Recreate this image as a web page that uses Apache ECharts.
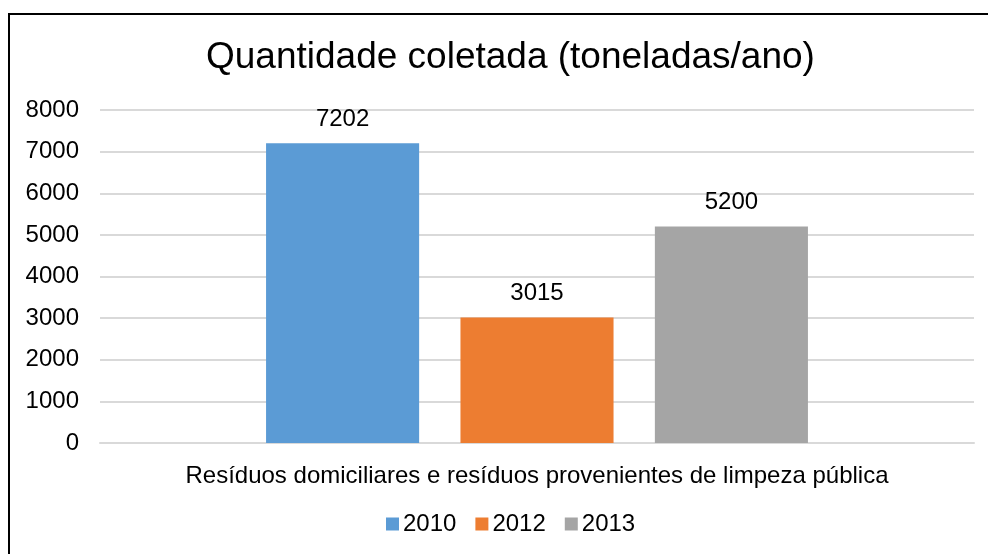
<!DOCTYPE html>
<html>
<head>
<meta charset="utf-8">
<script src="https://cdn.jsdelivr.net/npm/echarts@6/dist/echarts.min.js"></script>
<style>
	html, body { margin: 0; padding: 0; background: #fff; }
	#frame { position: absolute; left: 8px; top: 13px; width: 990px; height: 560px; border-top: 2px solid #000; border-left: 2px solid #000; }
	#chart { position: absolute; left: 0; top: 0; width: 988px; height: 554px; }
</style>
</head>
<body>
<div id="frame"></div>
<div id="chart"></div>
<script>
var categories = ['Resíduos domiciliares e resíduos provenientes de limpeza pública'];
var seriesNames = ['2010', '2012', '2013'];
var values2010 = [7202];
var values2012 = [3015];
var values2013 = [5200];

var chart = echarts.init(document.getElementById('chart'));
var font = '"Liberation Sans", Arial, sans-serif';
var barLabel = {
	show : true,
	position : 'top',
	distance : 12,
	color : '#000',
	fontSize : 24,
	fontFamily : font
};
var option = {
	animation : false,
	color : [ '#5b9bd5', '#ed7d31', '#a5a5a5' ],
	title : {
		text : 'Quantidade coletada (toneladas/ano)',
		left : 201,
		top : 34,
		textStyle : {
			color : '#000',
			fontSize : 37,
			fontWeight : 'normal',
			fontFamily : font
		}
	},
	legend : {
		data : seriesNames,
		bottom : 13,
		left : 381,
		itemWidth : 13,
		itemHeight : 13,
		itemGap : 19,
		icon : 'rect',
		textStyle : {
			color : '#000',
			fontSize : 24,
			fontFamily : font,
			padding : [0, 0, 0, -1]
		}
	},
	grid : {
		left : 100,
		right : 14,
		top : 110,
		bottom : 111,
		containLabel : false
	},
	xAxis : [ {
		type : 'category',
		data : categories,
		axisLine : {
			show : true,
			lineStyle : { color : '#d9d9d9', width : 2 }
		},
		axisTick : { show : false },
		axisLabel : {
			margin : 21,
			color : '#000',
			fontSize : 24,
			fontFamily : font
		}
	} ],
	yAxis : [ {
		type : 'value',
		min : 0,
		max : 8000,
		interval : 1000,
		axisLine : { show : false },
		axisTick : { show : false },
		axisLabel : {
			margin : 21,
			color : '#000',
			fontSize : 24,
			fontFamily : font,
			formatter : function (v) { return String(v); }
		},
		splitLine : {
			show : true,
			lineStyle : { color : '#d9d9d9', width : 2 }
		}
	} ],
	series : [ {
		name : '2010',
		type : 'bar',
		data : values2010,
		barGap : '27%',
		barCategoryGap : '38%',
		label : barLabel
	}, {
		name : '2012',
		type : 'bar',
		data : values2012,
		label : barLabel
	}, {
		name : '2013',
		type : 'bar',
		data : values2013,
		label : barLabel
	} ]
};
chart.setOption(option);
</script>
</body>
</html>
